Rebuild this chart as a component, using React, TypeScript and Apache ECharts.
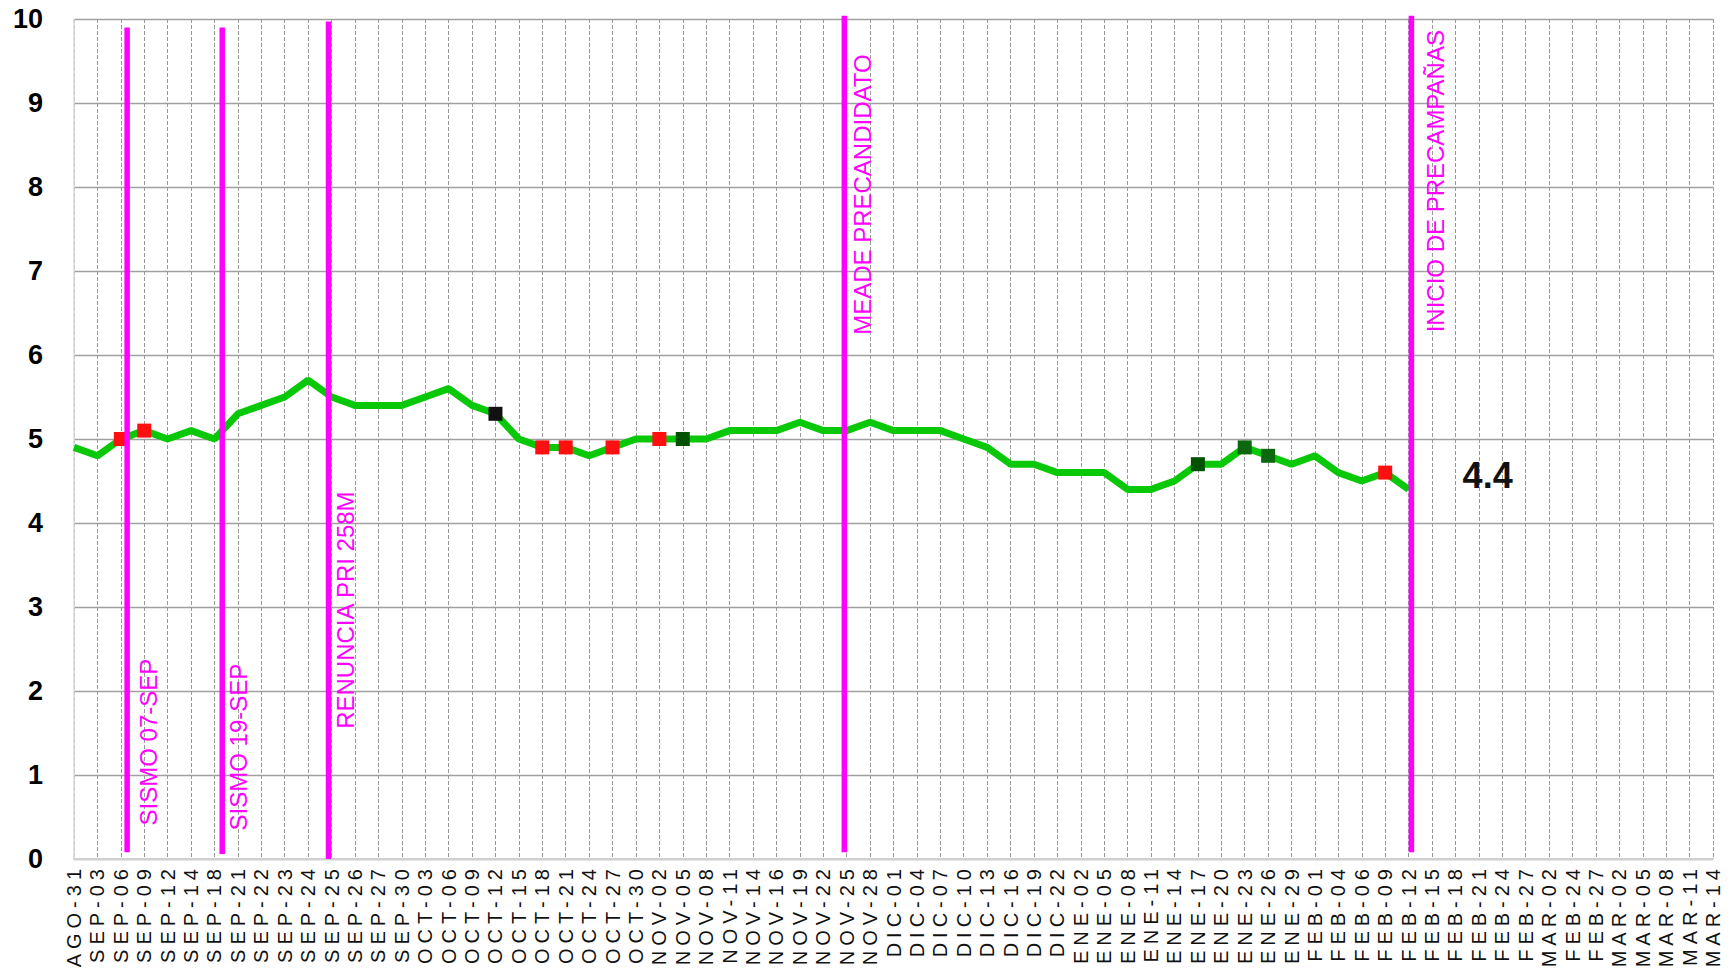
import React, { useEffect, useRef } from "react";
import * as echarts from "echarts";

// ---------- DATA ----------
const categories = [
  "AGO-31", "SEP-03", "SEP-06", "SEP-09", "SEP-12", "SEP-14", "SEP-18", "SEP-21", "SEP-22", "SEP-23",
  "SEP-24", "SEP-25", "SEP-26", "SEP-27", "SEP-30", "OCT-03", "OCT-06", "OCT-09", "OCT-12", "OCT-15",
  "OCT-18", "OCT-21", "OCT-24", "OCT-27", "OCT-30", "NOV-02", "NOV-05", "NOV-08", "NOV-11", "NOV-14",
  "NOV-16", "NOV-19", "NOV-22", "NOV-25", "NOV-28", "DIC-01", "DIC-04", "DIC-07", "DIC-10", "DIC-13",
  "DIC-16", "DIC-19", "DIC-22", "ENE-02", "ENE-05", "ENE-08", "ENE-11", "ENE-14", "ENE-17", "ENE-20",
  "ENE-23", "ENE-26", "ENE-29", "FEB-01", "FEB-04", "FEB-06", "FEB-09", "FEB-12", "FEB-15", "FEB-18",
  "FEB-21", "FEB-24", "FEB-27", "MAR-02", "FEB-24", "FEB-27", "MAR-02", "MAR-05", "MAR-08", "MAR-11",
  "MAR-14",
];

const ratings = [
  4.9, 4.8, 5.0, 5.1, 5.0, 5.1, 5.0, 5.3, 5.4, 5.5,
  5.7, 5.5, 5.4, 5.4, 5.4, 5.5, 5.6, 5.4, 5.3, 5.0,
  4.9, 4.9, 4.8, 4.9, 5.0, 5.0, 5.0, 5.0, 5.1, 5.1,
  5.1, 5.2, 5.1, 5.1, 5.2, 5.1, 5.1, 5.1, 5.0, 4.9,
  4.7, 4.7, 4.6, 4.6, 4.6, 4.4, 4.4, 4.5, 4.7, 4.7,
  4.9, 4.8, 4.7, 4.8, 4.6, 4.5, 4.6, 4.4,
];

// indexes of highlighted points
const redMarkers = [2, 3, 20, 21, 23, 25, 56];
const blackMarkers = [18];
const darkGreenMarkers = [26, 48];
const midGreenMarkers = [50, 51];

// events (position in category-index units)
const eventNames = [
  "SISMO 07-SEP",
  "SISMO 19-SEP",
  "RENUNCIA PRI 258M",
  "MEADE PRECANDIDATO",
  "INICIO DE PRECAMPAÑAS",
];
const eventPositions = [2.27, 6.33, 10.87, 32.9, 57.12];

// ---------- LAYOUT / STYLE ----------
const eventLineTop = [9.9, 9.9, 9.97, 10.04, 10.04];
const eventLineBottom = [0.08, 0.06, 0, 0.08, 0.08];
const eventLabelStart = [0.4, 0.34, 1.55, 6.24, 6.27];
const eventLabelDx = [21, 16, 17, 18, 24];

const MAGENTA = "#ff00ff";
const GREEN = "#08c808";

export default function App() {
  const ref = useRef<HTMLDivElement>(null);

  useEffect(() => {
    if (!ref.current) return;
    const chart = echarts.init(ref.current, undefined, { renderer: "svg" });

    const markerSeries = (idx: number[], color: string) => ({
      type: "scatter",
      xAxisIndex: 0,
      yAxisIndex: 0,
      symbol: "rect",
      symbolSize: 14,
      z: 3,
      itemStyle: { color, opacity: 1 },
      data: idx.map((i) => [i, ratings[i]]),
      silent: true,
    });

    chart.setOption({
      animation: false,
      backgroundColor: "#ffffff",
      grid: { left: 74, right: 20, top: 19, bottom: 113, containLabel: false },
      xAxis: [
        {
          type: "category",
          data: categories,
          boundaryGap: false,
          axisLine: { show: true, lineStyle: { color: "#d0d0d0", width: 2 } },
          axisTick: { show: false },
          axisLabel: {
            interval: 0,
            rotate: 90,
            margin: 5,
            color: "#111111",
            fontFamily: "Liberation Sans",
            fontSize: 20,
          },
          splitLine: {
            show: true,
            interval: 0,
            lineStyle: { color: "#9a9a9a", width: 1, type: [4, 2] },
          },
        },
        {
          type: "value",
          min: 0,
          max: 70,
          show: false,
          splitLine: { show: false },
        },
      ],
      yAxis: {
        type: "value",
        min: 0,
        max: 10,
        interval: 1,
        axisLine: { show: true, lineStyle: { color: "#d9d9d9", width: 1.5 } },
        axisTick: { show: false },
        axisLabel: {
          margin: 31,
          color: "#000000",
          fontFamily: "Liberation Sans",
          fontWeight: "bold",
          fontSize: 27,
        },
        splitLine: { show: true, lineStyle: { color: "#a0a0a0", width: 1.3 } },
      },
      series: [
        {
          type: "line",
          xAxisIndex: 0,
          yAxisIndex: 0,
          data: ratings,
          showSymbol: false,
          symbol: "none",
          z: 2,
          lineStyle: { color: GREEN, width: 7 },
          itemStyle: { color: GREEN },
          endLabel: {
            show: true,
            formatter: (p: any) => String(p.value),
            distance: 54,
            offset: [0, -14],
            color: "#111111",
            fontFamily: "Liberation Sans",
            fontWeight: "bold",
            fontSize: 36,
          },
          silent: true,
        },
        markerSeries(redMarkers, "#ff0f0f"),
        markerSeries(blackMarkers, "#111111"),
        markerSeries(darkGreenMarkers, "#005200"),
        markerSeries(midGreenMarkers, "#0c680f"),
        {
          type: "custom",
          xAxisIndex: 1,
          yAxisIndex: 0,
          z: 5,
          silent: true,
          encode: { x: 0, y: 1 },
          data: eventPositions.map((x, i) => [x, eventLineBottom[i], eventLineTop[i], eventLabelStart[i]]),
          renderItem: (params: any, api: any) => {
            const i = params.dataIndex;
            const x = api.value(0);
            const pBot = api.coord([x, api.value(1)]);
            const pTop = api.coord([x, api.value(2)]);
            const pLab = api.coord([x, api.value(3)]);
            return {
              type: "group",
              children: [
                {
                  type: "line",
                  shape: { x1: pBot[0], y1: pBot[1], x2: pTop[0], y2: pTop[1] },
                  style: { stroke: MAGENTA, lineWidth: 5.5 },
                },
                {
                  type: "text",
                  x: pLab[0] + eventLabelDx[i],
                  y: pLab[1],
                  rotation: Math.PI / 2,
                  style: {
                    text: eventNames[i],
                    fill: MAGENTA,
                    fontFamily: "Liberation Sans",
                    fontSize: 24,
                    align: "left",
                    verticalAlign: "middle",
                  },
                },
              ],
            };
          },
        },
      ],
    });

    return () => chart.dispose();
  }, []);

  return (
    <>
      <style>{`text[style*="20px"], text[font-size="20"], text[font-size="20px"] { letter-spacing: 5px; }`}</style>
      <div
        ref={ref}
        style={{ position: "absolute", left: 0, top: 0, width: 1733, height: 972, background: "#fff" }}
      />
    </>
  );
}
